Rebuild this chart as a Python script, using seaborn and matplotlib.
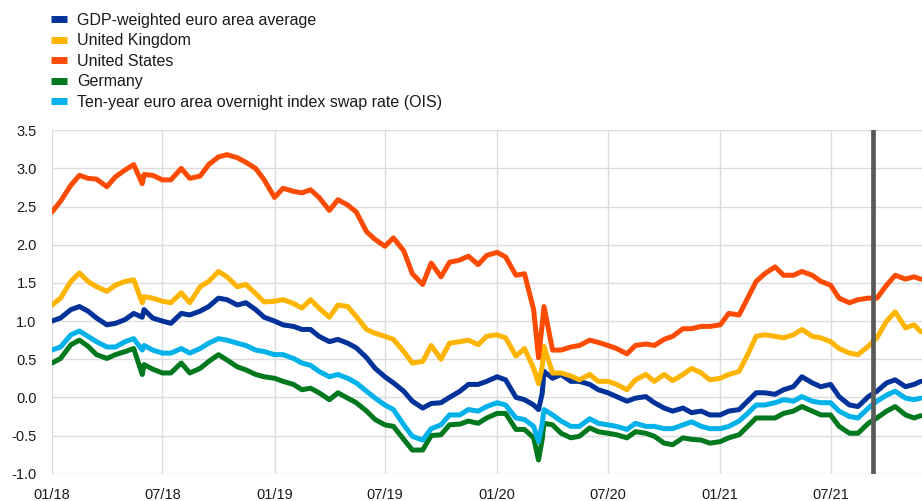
import pandas as pd
import matplotlib
matplotlib.use("Agg")
import matplotlib.pyplot as plt
import matplotlib.dates as mdates
import seaborn as sns

# semi-monthly observations plus a few extra days where the lines jump
base_dates = pd.date_range("2018-01-01", "2021-11-15", freq="SMS")
extra_dates = pd.to_datetime(["2018-05-29", "2020-03-09", "2020-03-18", "2021-11-26"])
dates = base_dates.union(extra_dates)

euro_avg = [1.00, 1.04, 1.15, 1.19, 1.13, 1.04, 0.95, 0.97, 1.02, 1.10,
            1.05, 1.15, 1.04, 1.00, 0.97, 1.10, 1.08, 1.13, 1.19, 1.30,
            1.28, 1.21, 1.24, 1.15, 1.05,
            1.00, 0.95, 0.93, 0.89, 0.89, 0.80, 0.73, 0.76, 0.71, 0.65,
            0.52, 0.38, 0.27, 0.19, 0.08, -0.05, -0.14, -0.08, -0.07, 0.00,
            0.08, 0.17, 0.17, 0.21,
            0.27, 0.23, 0.00, -0.03, -0.10, -0.16, 0.05, 0.34, 0.25, 0.30,
            0.21, 0.21, 0.17, 0.10, 0.06, 0.01, -0.05, -0.01, 0.01, -0.07,
            -0.14, -0.18, -0.14, -0.20, -0.18, -0.23,
            -0.23, -0.18, -0.16, -0.05, 0.06, 0.06, 0.04, 0.10, 0.14, 0.27,
            0.19, 0.14, 0.17, 0.01, -0.10, -0.12, 0.01, 0.08, 0.19, 0.23,
            0.14, 0.17, 0.21]

uk = [1.21, 1.30, 1.52, 1.63, 1.52, 1.45, 1.39, 1.47, 1.52, 1.54,
      1.24, 1.32, 1.30, 1.26, 1.24, 1.37, 1.24, 1.45, 1.52, 1.65,
      1.58, 1.45, 1.48, 1.36, 1.25,
      1.26, 1.28, 1.23, 1.17, 1.28, 1.17, 1.05, 1.21, 1.19, 1.06,
      0.89, 0.84, 0.80, 0.76, 0.60, 0.45, 0.47, 0.68, 0.50, 0.71,
      0.73, 0.75, 0.69, 0.80,
      0.82, 0.78, 0.54, 0.64, 0.38, 0.18, 0.40, 0.67, 0.32, 0.32,
      0.28, 0.23, 0.30, 0.21, 0.21, 0.17, 0.10, 0.23, 0.30, 0.21,
      0.30, 0.22, 0.30, 0.38, 0.32, 0.23,
      0.25, 0.30, 0.34, 0.56, 0.80, 0.82, 0.80, 0.78, 0.82, 0.89,
      0.80, 0.78, 0.73, 0.64, 0.58, 0.56, 0.67, 0.78, 1.00, 1.12,
      0.91, 0.95, 0.86]

us = [2.43, 2.57, 2.78, 2.91, 2.87, 2.86, 2.76, 2.89, 2.98, 3.05,
      2.80, 2.92, 2.91, 2.85, 2.85, 3.00, 2.87, 2.90, 3.05, 3.15,
      3.18, 3.14, 3.08, 3.00, 2.85,
      2.62, 2.74, 2.70, 2.68, 2.72, 2.62, 2.45, 2.59, 2.52, 2.43,
      2.17, 2.07, 1.98, 2.09, 1.92, 1.62, 1.48, 1.76, 1.58, 1.77,
      1.80, 1.85, 1.74, 1.86,
      1.90, 1.84, 1.60, 1.62, 1.15, 0.52, 0.95, 1.19, 0.62, 0.62,
      0.66, 0.68, 0.75, 0.72, 0.68, 0.64, 0.57, 0.68, 0.70, 0.68,
      0.76, 0.80, 0.90, 0.90, 0.93, 0.93,
      0.95, 1.10, 1.08, 1.30, 1.52, 1.62, 1.71, 1.60, 1.60, 1.65,
      1.60, 1.52, 1.47, 1.30, 1.24, 1.28, 1.30, 1.30, 1.47, 1.60,
      1.55, 1.58, 1.55]

germany = [0.45, 0.51, 0.69, 0.75, 0.67, 0.56, 0.51, 0.56, 0.60, 0.64,
           0.30, 0.43, 0.37, 0.32, 0.32, 0.45, 0.32, 0.38, 0.47, 0.56,
           0.49, 0.40, 0.36, 0.30, 0.27,
           0.25, 0.21, 0.17, 0.10, 0.12, 0.06, -0.03, 0.06, -0.01, -0.07,
           -0.18, -0.29, -0.36, -0.38, -0.55, -0.69, -0.69, -0.50, -0.49, -0.36,
           -0.35, -0.31, -0.34, -0.27,
           -0.21, -0.21, -0.42, -0.42, -0.53, -0.82, -0.55, -0.34, -0.36, -0.47,
           -0.53, -0.51, -0.40, -0.45, -0.47, -0.49, -0.53, -0.45, -0.47, -0.51,
           -0.60, -0.62, -0.53, -0.55, -0.56, -0.60,
           -0.58, -0.53, -0.49, -0.38, -0.27, -0.27, -0.27, -0.21, -0.18, -0.12,
           -0.18, -0.23, -0.23, -0.38, -0.47, -0.47, -0.34, -0.27, -0.18, -0.12,
           -0.23, -0.27, -0.24]

ois = [0.62, 0.66, 0.82, 0.87, 0.80, 0.73, 0.66, 0.66, 0.73, 0.77,
       0.62, 0.68, 0.62, 0.58, 0.58, 0.64, 0.58, 0.64, 0.71, 0.77,
       0.75, 0.71, 0.68, 0.62, 0.60,
       0.56, 0.56, 0.51, 0.45, 0.42, 0.34, 0.27, 0.30, 0.25, 0.19,
       0.08, -0.01, -0.10, -0.16, -0.36, -0.51, -0.56, -0.41, -0.36, -0.23,
       -0.23, -0.16, -0.18, -0.12,
       -0.07, -0.10, -0.27, -0.29, -0.38, -0.58, -0.35, -0.16, -0.23, -0.31,
       -0.38, -0.38, -0.28, -0.34, -0.36, -0.38, -0.42, -0.34, -0.38, -0.38,
       -0.41, -0.41, -0.36, -0.32, -0.38, -0.41,
       -0.41, -0.38, -0.31, -0.21, -0.10, -0.10, -0.07, -0.03, -0.05, 0.01,
       -0.05, -0.07, -0.07, -0.18, -0.25, -0.27, -0.14, -0.05, 0.03, 0.08,
       -0.01, -0.03, -0.01]

series_names = ["GDP-weighted euro area average", "United Kingdom", "United States",
                "Germany", "Ten-year euro area overnight index swap rate (OIS)"]
colors = ["#003299", "#FFB400", "#FF4B00", "#00781E", "#00B1EA"]
marker_date = pd.Timestamp("2021-09-09")

df = pd.DataFrame({"date": dates, series_names[0]: euro_avg, series_names[1]: uk,
                   series_names[2]: us, series_names[3]: germany, series_names[4]: ois})
long_df = df.melt(id_vars="date", var_name="series", value_name="value")

sns.set_style("white")
plt.rcParams["font.family"] = ["Liberation Sans", "DejaVu Sans"]

fig = plt.figure(figsize=(9.22, 5.01), dpi=100)
ax = fig.add_axes([0.0564, 0.0545, 0.9436, 0.6855])

sns.lineplot(data=long_df, x="date", y="value", hue="series", hue_order=series_names,
             palette=colors, linewidth=3.6, ax=ax, solid_capstyle="round")

ax.axvline(marker_date, color="#5a5a5a", linewidth=3.4, zorder=5)

ax.set_xlim(pd.Timestamp("2018-01-01"), pd.Timestamp("2021-11-28"))
ax.set_ylim(-1.0, 3.5)
ax.set_yticks([-1.0, -0.5, 0.0, 0.5, 1.0, 1.5, 2.0, 2.5, 3.0, 3.5])
ax.yaxis.set_major_formatter(plt.FuncFormatter(lambda v, p: f"{v:.1f}"))
ax.xaxis.set_major_locator(mdates.MonthLocator(bymonth=[1, 7]))
ax.xaxis.set_major_formatter(mdates.DateFormatter("%m/%y"))
ax.set_xlabel("")
ax.set_ylabel("")
ax.grid(True, color="#dcdcdc", linewidth=1.0)
ax.set_axisbelow(True)
for s in ax.spines.values():
    s.set_visible(False)
ax.tick_params(axis="both", length=0, labelsize=10.5, colors="#1a1a1a")
ax.tick_params(axis="y", pad=11)
ax.tick_params(axis="x", pad=10)

handles, labels = ax.get_legend_handles_labels()
ax.get_legend().remove()
leg = fig.legend(handles, labels, loc="upper left", bbox_to_anchor=(0.055, 0.974),
                 frameon=False, fontsize=11.5, handlelength=1.05, handletextpad=0.62,
                 labelspacing=0.34, borderpad=0, borderaxespad=0)
for line in leg.get_lines():
    line.set_linewidth(5)
    line.set_solid_capstyle("butt")
for t in leg.get_texts():
    t.set_color("#1a1a1a")

fig.savefig("out.png", dpi=100)
